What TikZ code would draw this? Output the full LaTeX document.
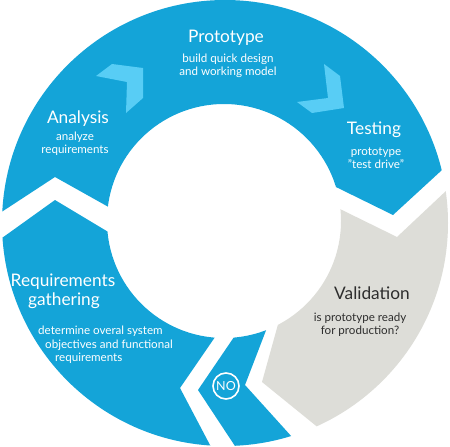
\documentclass[tikz,border=0pt]{standalone}
\usepackage{fontspec}
\setmainfont{Lato}
\definecolor{ringblue}{RGB}{20,164,216}
\definecolor{arrowblue}{RGB}{88,205,245}
\definecolor{ringgray}{RGB}{221,221,216}
\definecolor{darktext}{RGB}{45,45,45}
\begin{document}
\begin{tikzpicture}[x=1pt,y=-1pt,
  title/.style={text=white,font=\fontsize{17.3}{19}\selectfont,inner sep=0pt},
  sub/.style={text=white,font=\fontsize{11.6}{13.3}\selectfont,align=center,inner sep=0pt},
  ring/.style={even odd rule}]
\useasboundingbox (0,0) rectangle (450,447);
\fill[white] (0,0) rectangle (450,447);
% centre point
\coordinate (C) at (224,221);
% Analysis / Prototype / Testing piece
\begin{scope}
\clip (C) -- (155,233) -- (55,177) -- (-55,249) -- (-60,-60) -- (510,-60) -- (491,125) -- (393,215) -- (283,161) -- cycle;
\fill[ringblue,ring] (225,223) circle[radius=223] (224,221) circle[radius=117];
\end{scope}
% Validation piece
\begin{scope}
\clip (C) -- (287,183) -- (397,237) -- (497,143) -- (520,143) -- (520,520) -- (368,468) -- (262,382) -- (292,274) -- cycle;
\fill[ringgray,ring] (225,223) circle[radius=223] (224,221) circle[radius=117];
\end{scope}
% NO piece
\begin{scope}
\clip (C) -- (285,281) -- (245,385) -- (339,489) -- (268,496) -- (198,390) -- (266,290) -- cycle;
\fill[ringblue,ring] (225,223) circle[radius=223] (224,221) circle[radius=117];
\end{scope}
% Requirements piece
\begin{scope}
\clip (C) -- (246,292) -- (180,388) -- (240,502) -- (-60,502) -- (-60,300) -- (-51,276) -- (55,200) -- (155,260) -- cycle;
\fill[ringblue,ring] (225,223) circle[radius=223] (224,221) circle[radius=117];
\end{scope}
% light chevrons
\fill[arrowblue] (96,76) -- (112,64) -- (143,68) -- (143,98) -- (126,113) -- (127,82) -- cycle;
\fill[arrowblue] (324,64) -- (340,76) -- (344,108) -- (312,113) -- (297,102) -- (328,98) -- cycle;
% texts
\node[title] (proto) at (226,38) {Prototype};
\node[sub] (protosub) at (228,66) {build quick design\\and working model};
\node[title] (ana) at (78,119) {Analysis};
\node[sub] (anasub) at (75,144) {analyze\\requirements};
\node[title] (test) at (374,130) {Testing};
\node[sub] (testsub) at (376,158) {prototype\\"test drive"};
\node[title] (req1) at (63,282) {Requirements};
\node[title] (req2) at (64,301) {gathering};
\node[sub,anchor=west] (reqa) at (38,331) {determine overal system};
\node[sub,anchor=west] (reqb) at (45,345) {objectives and functional};
\node[sub,anchor=west] (reqc) at (55,358) {requirements};
\node[title,text=darktext] (val) at (372,293) {Validation};
\node[sub,text=darktext] (valsub) at (360,325) {is prototype ready\\for production?};
\node[draw=white,line width=1.6pt,circle,minimum size=26pt,inner sep=0pt,text=white,font=\fontsize{12.5}{14}\selectfont] (no) at (226,386) {NO};
\end{tikzpicture}
\end{document}
